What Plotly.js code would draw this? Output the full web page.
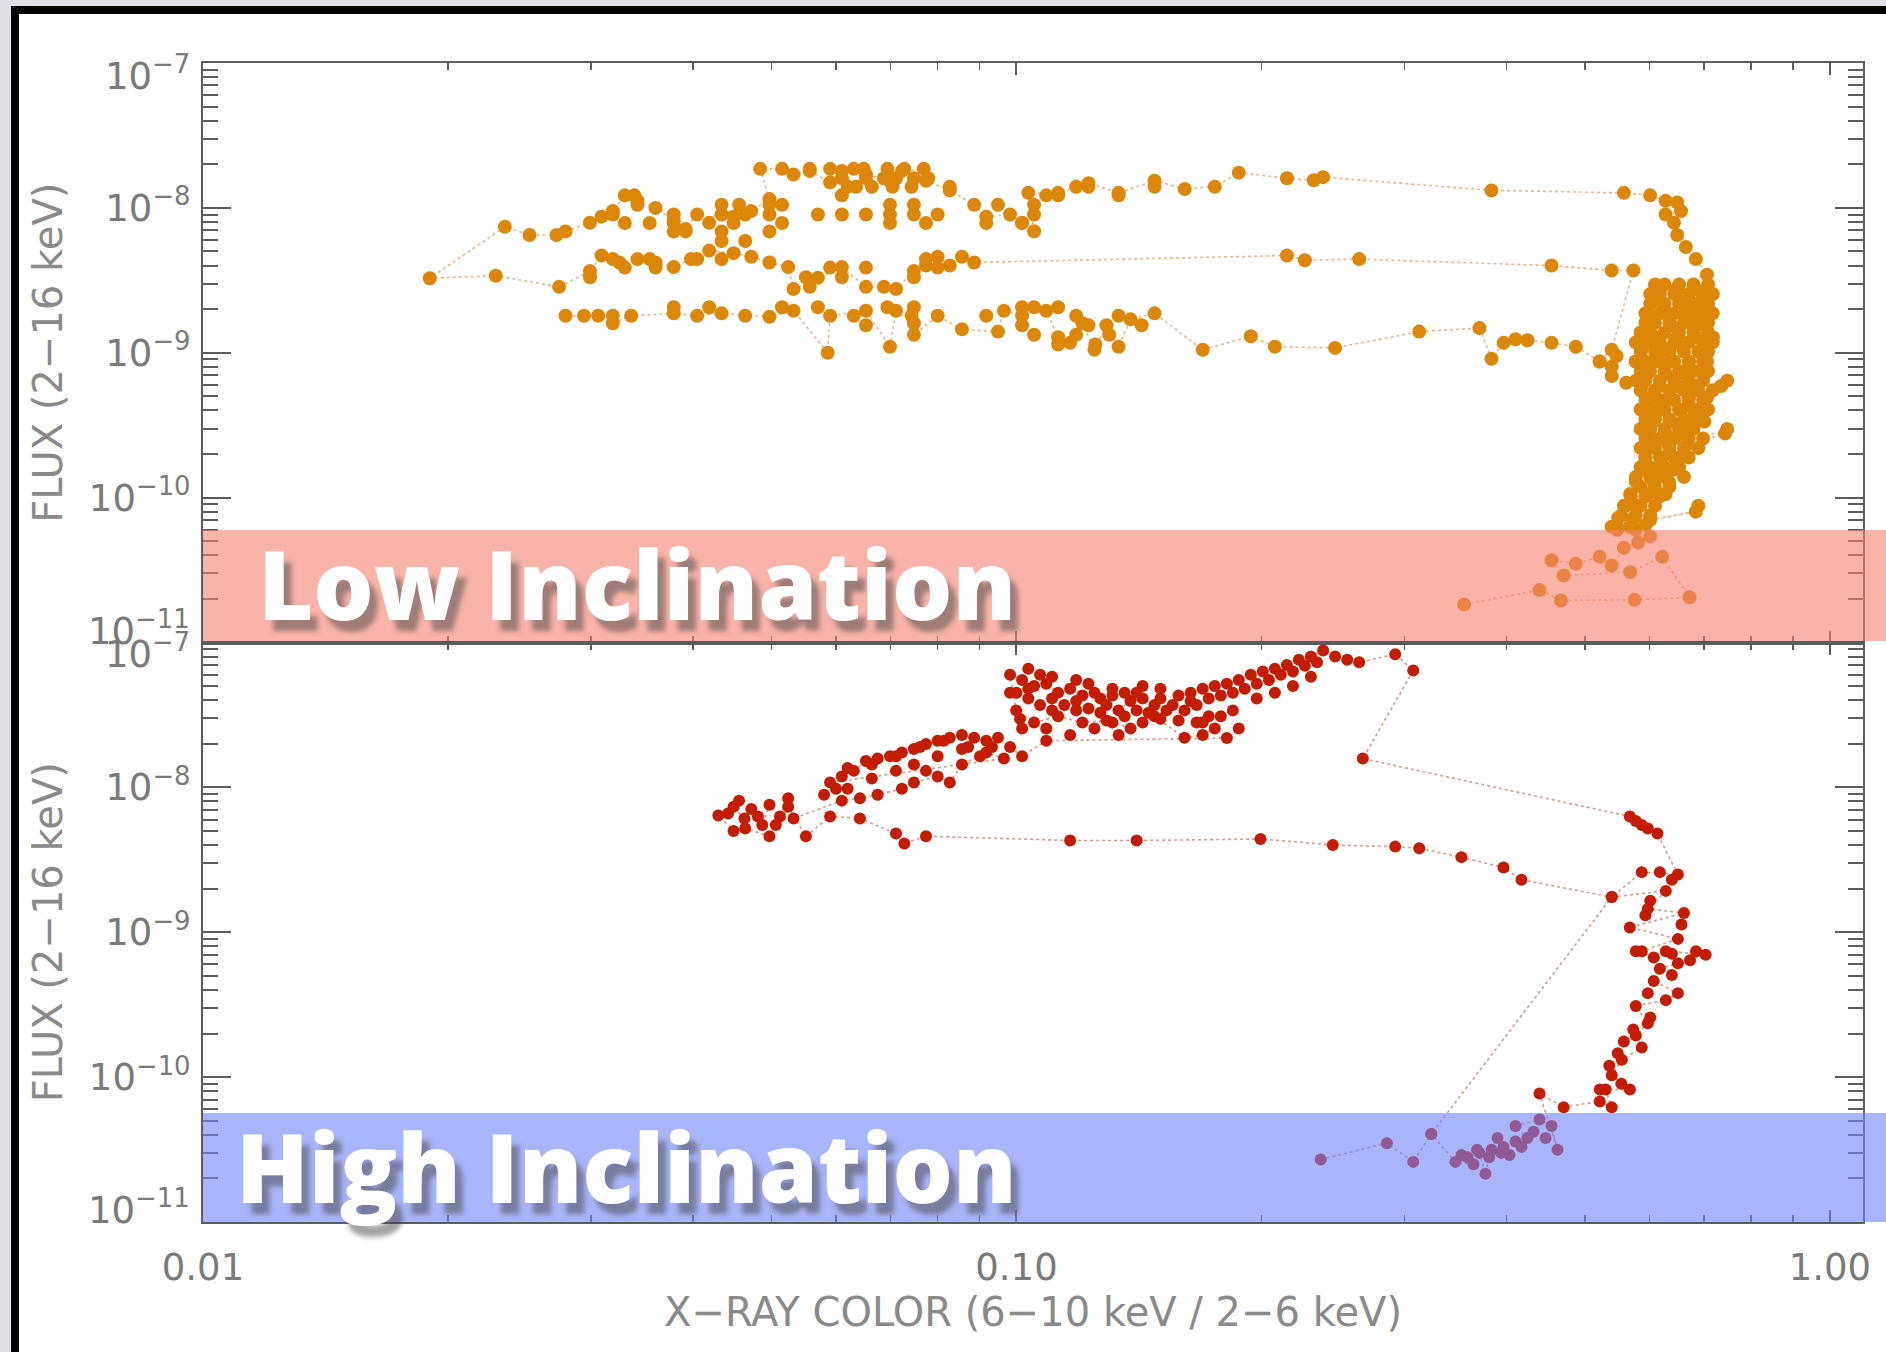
<!DOCTYPE html>
<html>
<head>
<meta charset="utf-8">
<script src="https://cdn.plot.ly/plotly-3.0.1.min.js"></script>
<style>html,body{margin:0;padding:0;background:#fff;}#chart{width:1886px;height:1352px;}</style>
</head>
<body>
<div id="chart"></div>
<script>
// ---------------- DATA ----------------
// Low inclination source (top panel): X-ray colour vs 2-16 keV flux, in time order
const xLow = [
 0.355,0.4395,0.467,0.575,0.672,0.622,0.568,0.4706,0.4547,0.487,0.521,0.539,0.558,0.581,0.601,0.548,0.577,0.601,0.684,
 0.539,0.568,0.549,0.574,0.601,0.581,0.558,0.568,0.597,0.628,0.634,0.607,0.577,0.587,0.613,0.643,0.651,0.621,0.593,
 0.601,0.634,0.665,0.743,0.660,0.628,0.597,0.607,0.638,0.671,0.701,0.687,0.656,0.621,0.593,0.601,0.634,0.671,0.706,
 0.735,0.683,0.649,0.617,0.587,0.597,0.628,0.660,0.701,0.706,0.671,0.638,0.607,0.577,0.587,0.628,0.660,0.694,0.718,
 0.683,0.649,0.617,0.593,0.601,0.638,0.678,0.701,0.706,0.671,0.628,0.597,0.607,0.660,0.694,0.683,0.649,0.617,
 0.706,0.684,0.665,0.649,0.643,0.628,0.656,0.649,0.628,0.601,0.558,
 0.3836,0.2382,0.232,0.215,0.1876,0.1753,0.161,0.1478,0.1335,0.1226,0.1184,0.1125,0.1034,0.1051,0.1016,0.0982,0.0918,
 0.0887,0.0828,0.0774,0.0769,0.0723,0.0699,0.0653,0.0635,0.061,0.059,0.0557,0.0532,0.0515,0.0484,0.0497,0.0472,0.0449,
 0.0434,0.0419,0.0405,0.0392,0.0379,0.036,0.0342,0.033,0.0319,0.0309,0.0299,0.0272,0.0252,0.0235,
 0.019,0.0229,0.0274,0.0299,0.0309,0.0325,0.0342,0.036,0.0379,0.0398,0.0419,0.0449,0.0472,0.0497,0.0524,0.0532,0.057,
 0.061,0.0653,0.0711,0.0748,0.0774,0.080,0.0828,0.0857,0.0887,0.215,0.2262,0.2638,0.4547,0.539,0.5733,
 0.539,0.521,0.487,0.4547,0.4248,0.4106,0.397,0.3836,0.3708,0.3127,0.2464,0.2078,0.1941,0.1694,0.1478,0.1381,0.1335,
 0.129,0.1247,0.1205,0.1164,0.1125,0.1088,0.1016,0.0965,0.0949,0.0857,0.080,0.0748,0.0748,0.0711,0.0699,0.0653,0.059,
 0.0586,0.0532,0.0497,0.0434,0.0405,0.0379,0.0336,0.0319,0.0306,0.0294,0.0279
];
const yLow = [
 1.83e-11,2.3e-11,1.95e-11,1.97e-11,2.05e-11,3.9e-11,3.06e-11,2.9e-11,3.7e-11,3.5e-11,3.9e-11,3.4e-11,4.5e-11,4.9e-11,5.4e-11,6.0e-11,6.0e-11,7.0e-11,8.0e-11,
 6.3e-11,6.3e-11,7.25e-11,7.25e-11,7.25e-11,8.8e-11,8.8e-11,1.06e-10,1.06e-10,1.06e-10,1.29e-10,1.29e-10,1.29e-10,1.56e-10,1.56e-10,1.56e-10,1.89e-10,1.89e-10,1.89e-10,
 2.29e-10,2.29e-10,2.29e-10,2.77e-10,2.77e-10,2.77e-10,2.77e-10,3.35e-10,3.35e-10,3.35e-10,3.35e-10,4.06e-10,4.06e-10,4.06e-10,4.06e-10,4.9e-10,4.9e-10,4.9e-10,4.9e-10,
 5.9e-10,5.9e-10,5.9e-10,5.9e-10,5.9e-10,7.2e-10,7.2e-10,7.2e-10,7.2e-10,8.7e-10,8.7e-10,8.7e-10,8.7e-10,8.7e-10,1.05e-9,1.05e-9,1.05e-9,1.05e-9,1.28e-9,
 1.28e-9,1.28e-9,1.28e-9,1.28e-9,1.55e-9,1.55e-9,1.55e-9,1.55e-9,1.87e-9,1.87e-9,1.87e-9,1.87e-9,2.27e-9,2.27e-9,2.27e-9,2.75e-9,2.75e-9,2.75e-9,
 3.46e-9,4.43e-9,5.37e-9,6.5e-9,7.9e-9,9.0e-9,9.5e-9,1.09e-8,1.12e-8,1.22e-8,1.27e-8,
 1.32e-8,1.63e-8,1.55e-8,1.6e-8,1.75e-8,1.4e-8,1.35e-8,1.54e-8,1.27e-8,1.48e-8,1.4e-8,1.27e-8,1.27e-8,6.9e-9,7.9e-9,9.0e-9,8.7e-9,
 1.05e-8,1.32e-8,1.54e-8,1.86e-8,1.8e-8,1.54e-8,1.7e-8,1.4e-8,1.8e-8,1.5e-8,1.8e-8,1.7e-8,1.86e-8,1.86e-8,1.15e-8,9.5e-9,8.7e-9,
 1.05e-8,7.9e-9,9.0e-9,7.15e-9,8.2e-9,1.0e-8,1.12e-8,1.22e-8,9.5e-9,8.7e-9,7.9e-9,6.5e-9,6.5e-9,7.4e-9,
 3.27e-9,3.4e-9,2.85e-9,3.66e-9,4.69e-9,4.2e-9,4.43e-9,4.2e-9,3.9e-9,4.43e-9,5.07e-9,4.87e-9,4.6e-9,4.2e-9,3.9e-9,2.75e-9,3.3e-9,
 3.9e-9,2.85e-9,2.75e-9,3.66e-9,4.0e-9,4.6e-9,4.0e-9,4.6e-9,4.2e-9,4.69e-9,4.35e-9,4.43e-9,4.0e-9,3.7e-9,3.7e-9,
 1.05e-9,8.7e-10,1.1e-9,1.17e-9,1.22e-9,1.24e-9,1.17e-9,9.1e-10,1.48e-9,1.4e-9,1.08e-9,1.1e-9,1.3e-9,1.05e-9,1.87e-9,1.7e-9,1.1e-9,
 1.55e-9,1.05e-9,1.6e-9,1.17e-9,1.28e-9,1.95e-9,1.8e-9,1.95e-9,1.4e-9,1.45e-9,1.8e-9,1.33e-9,1.6e-9,1.95e-9,1.1e-9,1.95e-9,1.8e-9,
 1.0e-9,1.95e-9,1.77e-9,1.87e-9,1.8e-9,1.87e-9,1.8e-9,1.6e-9,1.8e-9,1.8e-9,1.8e-9
];
// further low-inclination observations inside the crowded soft-state clump and hard-state column
const xLowDense = [
 0.0557,0.0590,0.0631,0.0649,0.0694,0.0728,0.0610,0.0653,0.0687,0.0711,0.0748,0.0779,0.0620,0.0664,0.0704,0.0743,0.0828,0.1226,0.1478,
 0.0339,0.0610,0.1088,0.1125,0.1335,0.0342,0.0456,0.0497,0.0515,0.0699,0.0748,0.0949,0.1051,
 0.0319,0.0379,0.0434,0.0464,0.0497,0.0570,0.0610,0.0653,0.0699,0.0748,0.0800,0.1051,
 0.0330,0.0354,0.0379,0.0449,0.0515,0.0699,0.0774,0.0918,0.1016,0.0279,0.0379,0.0392,0.0434,0.0497,0.0434,0.0464,
 0.0319,0.0354,0.0405,0.0434,0.0774,0.0330,0.0360,0.0590,0.0653,0.0800,0.0299,0.0551,0.0610,0.0748,0.0557,0.0687,
 0.0379,0.0419,0.0515,0.0570,0.0694,0.0748,0.1016,0.1051,0.1125,0.0319,0.0464,0.0631,0.0743,0.0918,0.1184,0.1335,
 0.0653,0.1016,0.1226,0.1425,0.1051,0.1184,0.1300,0.1125,0.1250,
 0.6094,0.6262,0.6523,0.6796,0.7081,0.6012,0.6178,0.6435,0.6704,0.6983,0.7177,0.6012,0.6262,0.6523,0.6796,0.7081,
 0.5931,0.6178,0.6435,0.6615,0.6889,0.7177,0.5931,0.6094,0.6348,0.6615,0.6889,0.7081,0.5851,0.6012,0.6262,0.6523,0.6796,0.7081,
 0.5772,0.6012,0.6178,0.6435,0.6704,0.6983,0.7177,0.5851,0.6094,0.6348,0.6615,0.6889,0.7081,0.5772,0.5931,0.6178,0.6435,0.6704,0.6983,
 0.5851,0.6012,0.6262,0.6523,0.6796,0.7081,0.5772,0.5931,0.6178,0.6435,0.6704,0.6983,0.7476,0.5851,0.6094,0.6348,0.6615,0.6889,0.7177,
 0.5931,0.6178,0.6435,0.6704,0.6983,0.5851,0.6012,0.6262,0.6523,0.6796,0.7081,0.5931,0.6094,0.6348,0.6615,0.6889,
 0.5851,0.6012,0.6262,0.6523,0.6796,0.7476,0.5931,0.6178,0.6435,0.6704,0.6983,0.5851,0.6094,0.6348,0.6615,0.6889,
 0.5931,0.6178,0.6435,0.6704,0.5851,0.6012,0.6262,0.6523,0.5772,0.6012,0.6262,0.6615,0.5851,0.6094,0.6348,
 0.5693,0.5931,0.6178,0.5616,0.5851,0.6094,0.6889,0.5540,0.5772,0.6012,0.5466,0.5693,0.5931,
 0.5212,0.5392,0.5466,0.5392,0.5616
];
const yLowDense = [
 1.86e-8,1.86e-8,1.86e-8,1.86e-8,1.86e-8,1.86e-8,1.6e-8,1.6e-8,1.6e-8,1.6e-8,1.6e-8,1.6e-8,1.4e-8,1.4e-8,1.4e-8,1.4e-8,1.4e-8,1.4e-8,1.4e-8,
 1.22e-8,1.22e-8,1.22e-8,1.22e-8,1.22e-8,1.05e-8,1.05e-8,1.05e-8,1.05e-8,1.05e-8,1.05e-8,1.05e-8,1.05e-8,
 9.0e-9,9.0e-9,9.0e-9,9.0e-9,9.0e-9,9.0e-9,9.0e-9,9.0e-9,9.0e-9,9.0e-9,9.0e-9,9.0e-9,
 7.86e-9,7.86e-9,7.86e-9,7.86e-9,7.86e-9,7.86e-9,7.86e-9,7.86e-9,7.86e-9,6.88e-9,6.88e-9,6.88e-9,6.88e-9,6.88e-9,5.9e-9,5.9e-9,
 4.43e-9,4.43e-9,4.43e-9,4.43e-9,4.43e-9,3.87e-9,3.87e-9,3.87e-9,3.87e-9,3.87e-9,3.32e-9,3.32e-9,3.32e-9,3.32e-9,2.85e-9,2.85e-9,
 2.06e-9,2.06e-9,2.06e-9,2.06e-9,2.06e-9,2.06e-9,2.06e-9,2.06e-9,2.06e-9,1.8e-9,1.8e-9,1.8e-9,1.8e-9,1.8e-9,1.8e-9,1.8e-9,
 1.55e-9,1.55e-9,1.55e-9,1.55e-9,1.33e-9,1.33e-9,1.33e-9,1.14e-9,1.14e-9,
 2.96e-9,2.96e-9,2.96e-9,2.96e-9,2.96e-9,2.54e-9,2.54e-9,2.54e-9,2.54e-9,2.54e-9,2.54e-9,2.18e-9,2.18e-9,2.18e-9,2.18e-9,2.18e-9,
 1.87e-9,1.87e-9,1.87e-9,1.87e-9,1.87e-9,1.87e-9,1.61e-9,1.61e-9,1.61e-9,1.61e-9,1.61e-9,1.61e-9,1.38e-9,1.38e-9,1.38e-9,1.38e-9,1.38e-9,1.38e-9,
 1.18e-9,1.18e-9,1.18e-9,1.18e-9,1.18e-9,1.18e-9,1.18e-9,1.015e-9,1.015e-9,1.015e-9,1.015e-9,1.015e-9,1.015e-9,8.7e-10,8.7e-10,8.7e-10,8.7e-10,8.7e-10,8.7e-10,
 7.48e-10,7.48e-10,7.48e-10,7.48e-10,7.48e-10,7.48e-10,6.42e-10,6.42e-10,6.42e-10,6.42e-10,6.42e-10,6.42e-10,6.42e-10,5.5e-10,5.5e-10,5.5e-10,5.5e-10,5.5e-10,5.5e-10,
 4.72e-10,4.72e-10,4.72e-10,4.72e-10,4.72e-10,4.06e-10,4.06e-10,4.06e-10,4.06e-10,4.06e-10,4.06e-10,3.48e-10,3.48e-10,3.48e-10,3.48e-10,3.48e-10,
 2.98e-10,2.98e-10,2.98e-10,2.98e-10,2.98e-10,2.98e-10,2.56e-10,2.56e-10,2.56e-10,2.56e-10,2.56e-10,2.2e-10,2.2e-10,2.2e-10,2.2e-10,2.2e-10,
 1.89e-10,1.89e-10,1.89e-10,1.89e-10,1.62e-10,1.62e-10,1.62e-10,1.62e-10,1.39e-10,1.39e-10,1.39e-10,1.39e-10,1.19e-10,1.19e-10,1.19e-10,
 1.02e-10,1.02e-10,1.02e-10,8.8e-11,8.8e-11,8.8e-11,8.8e-11,7.52e-11,7.52e-11,7.52e-11,6.46e-11,6.46e-11,6.46e-11,
 8.7e-10,8.0e-10,9.5e-10,6.9e-10,6.2e-10
];

// High inclination source (bottom panel), in time order
const xHigh = [
 0.2366,0.2853,0.3074,0.3235,0.3464,0.3646,0.3584,0.3708,0.3771,0.3836,0.3902,0.3969,0.4037,0.4106,0.4248,0.4106,0.4395,0.4547,0.4625,
 0.4395,0.4706,0.5212,0.5392,0.530,0.5675,0.5392,0.5548,0.5870,0.5772,0.5971,0.5772,0.6284,0.6502,0.6073,0.6178,0.6502,0.6729,0.7033,
 0.6284,0.6073,0.5870,0.6502,0.5675,0.6615,0.5971,0.6284,0.5392,0.5870,0.6502,0.6136,0.5870,0.5675,
 0.2665,0.3074,0.2921,0.2638,0.2382,0.2301,0.2224,0.215,0.2078,0.2008,0.1941,0.1876,0.1814,0.1753,0.1694,0.1637,0.1582,0.1529,
 0.1478,0.1429,0.1381,0.1335,0.129,0.1247,0.1205,0.1164,0.1125,0.1088,0.1051,0.1016,0.0982,0.0999,0.1051,0.1125,0.1205,0.129,
 0.1381,0.1478,0.1609,0.1694,0.1753,0.1814,0.1088,0.1016,0.0982,
 0.0949,0.0918,0.0887,0.0857,0.0828,0.080,0.0774,0.0748,0.0723,0.0699,0.0675,0.0653,0.0631,0.061,0.059,
 0.0965,0.0918,0.0857,0.0828,0.080,0.0748,0.0723,0.0675,0.0642,0.061,
 0.0532,0.0524,0.0512,0.0497,0.0487,0.0472,0.0463,0.0449,0.0430,0.0449,0.0464,0.0497,0.0524,0.0551,
 0.059,0.0642,0.0711,0.0728,0.0774,0.1164,0.1405,0.1995,0.2448,0.2921,0.3127,0.3523,0.3969,0.4176,0.5392,0.3235
];
const yHigh = [
 2.7e-11,3.5e-11,2.6e-11,4.05e-11,2.6e-11,2.5e-11,2.8e-11,3.0e-11,2.15e-11,3.15e-11,3.8e-11,3.3e-11,2.9e-11,3.6e-11,3.8e-11,4.6e-11,5.1e-11,4.6e-11,3.15e-11,
 7.7e-11,6.2e-11,6.8e-11,6.2e-11,8.2e-11,8.2e-11,1.03e-10,1.32e-10,1.6e-10,1.94e-10,2.35e-10,3.1e-10,3.4e-10,3.8e-10,4.6e-10,5.6e-10,6.1e-10,6.4e-10,7.0e-10,
 7.4e-10,6.7e-10,7.4e-10,9.0e-10,1.08e-9,1.36e-9,1.45e-9,1.93e-9,1.75e-9,2.6e-9,2.5e-9,4.8e-9,5.5e-9,6.3e-9,
 1.58e-8,6.4e-8,8.3e-8,7.3e-8,8.8e-8,8.0e-8,7.6e-8,7.0e-8,6.6e-8,6.3e-8,6.0e-8,5.5e-8,5.2e-8,5.0e-8,4.8e-8,4.5e-8,4.3e-8,3.4e-8,
 3.7e-8,4.1e-8,3.95e-8,3.4e-8,3.7e-8,4.5e-8,4.3e-8,4.8e-8,4.5e-8,5.2e-8,5.0e-8,5.5e-8,6.0e-8,3.4e-8,2.8e-8,3.1e-8,2.8e-8,2.9e-8,
 2.55e-8,3.1e-8,2.2e-8,2.3e-8,2.55e-8,2.19e-8,2.1e-8,1.64e-8,1.9e-8,
 2.2e-8,2.1e-8,2.2e-8,2.3e-8,2.2e-8,2.1e-8,1.99e-8,1.84e-8,1.74e-8,1.64e-8,1.58e-8,1.52e-8,1.3e-8,1.19e-8,1.08e-8,
 1.58e-8,1.74e-8,1.44e-8,1.08e-8,1.19e-8,1.08e-8,9.8e-9,8.9e-9,8.4e-9,8.1e-9,
 6.1e-9,8.4e-9,6.3e-9,7.6e-9,5.5e-9,7.1e-9,6.1e-9,7.35e-9,6.4e-9,5.0e-9,5.2e-9,4.6e-9,7.35e-9,4.6e-9,
 6.3e-9,6.1e-9,4.8e-9,4.1e-9,4.6e-9,4.3e-9,4.3e-9,4.4e-9,4.0e-9,3.9e-9,3.8e-9,3.3e-9,2.8e-9,2.3e-9,1.75e-9,4.05e-11
];
// further high-inclination observations in the crowded regions
const xHighDense = [
 0.1000,0.1034,0.1069,0.1106,0.1145,0.1184,0.1226,0.1268,0.1312,0.1358,0.1405,0.1453,0.1503,0.1556,0.1609,0.1665,0.1723,0.1783,
 0.1845,0.1908,0.1974,0.2043,0.2113,0.2187,0.2262,0.2341,0.2464,0.2550,0.1016,0.1088,0.1164,0.1247,0.1335,0.1429,0.1694,0.1876,
 0.1034,0.1069,0.1106,0.1184,0.1226,0.1312,0.1358,0.1429,0.1503,0.0982,0.1010,
 0.1034,0.1106,0.1184,0.1268,0.1312,0.1405,0.1503,0.1637,0.1582,0.1665,0.1783,0.1723,0.1845,0.1974,0.2078,0.2187,0.2301,
 0.0620,0.0664,0.0711,0.0761,0.0814,0.0872,0.0933,0.0600,0.0580,0.0774,
 0.0711,0.0748,0.0800,0.0857,0.0902,0.0664,0.0620,
 0.0442,0.0456,0.0481,0.0506,
 0.5772,0.5971,0.6178,0.6392,0.6012,0.5931,0.6569,0.5772,0.6392,0.6844,0.6392,0.5971,0.6012,0.5730,0.5579,0.5484,0.5355,0.5540,0.5212,
 0.3524,0.3683,0.3942,0.4176,0.4321,0.4471,0.3811
];
const yHighDense = [
 4.5e-8,4.1e-8,3.7e-8,3.4e-8,3.7e-8,3.4e-8,3.5e-8,3.27e-8,2.8e-8,3.1e-8,3.4e-8,3.27e-8,2.97e-8,3.7e-8,3.4e-8,3.7e-8,4.1e-8,4.3e-8,
 4.5e-8,4.8e-8,5.2e-8,5.5e-8,6.0e-8,6.3e-8,6.9e-8,7.3e-8,8.0e-8,7.6e-8,2.55e-8,2.55e-8,2.3e-8,2.55e-8,2.3e-8,2.8e-8,2.8e-8,2.55e-8,
 6.6e-8,6.0e-8,5.8e-8,5.5e-8,5.2e-8,4.8e-8,4.5e-8,5.0e-8,4.8e-8,4.5e-8,2.97e-8,
 4.8e-8,4.1e-8,3.95e-8,4.1e-8,4.3e-8,4.5e-8,4.1e-8,3.95e-8,2.9e-8,2.8e-8,3.1e-8,3.1e-8,3.4e-8,4.1e-8,4.5e-8,5.0e-8,5.8e-8,
 1.36e-8,1.44e-8,1.64e-8,1.9e-8,2.1e-8,1.9e-8,1.9e-8,9.8e-9,8.9e-9,1.3e-8,
 1.3e-8,1.44e-8,1.64e-8,1.84e-8,1.64e-8,1.15e-8,9.8e-9,
 6.6e-9,8.1e-9,6.3e-9,5.5e-9,
 5.85e-9,5.2e-9,2.6e-9,2.3e-9,1.65e-9,1.31e-9,1.13e-9,7.4e-10,7.1e-10,7.4e-10,5.06e-10,3.8e-10,2.58e-10,2.13e-10,1.76e-10,1.46e-10,1.2e-10,9.0e-11,8.2e-11,
 2.9e-11,3.15e-11,3.0e-11,3.3e-11,4.2e-11,3.8e-11,2.8e-11
];

// Axis ticks and labels
const xTickVals = [0.01, 0.1, 1];
const xTickText = ['0.01', '0.10', '1.00'];
const yTickVals = [1e-11, 1e-10, 1e-9, 1e-8, 1e-7];
const yTickText = ['10<sup>−11</sup>', '10<sup>−10</sup>', '10<sup>−9</sup>', '10<sup>−8</sup>', '10<sup>−7</sup>'];
const xTitle = 'X−RAY COLOR (6−10 keV / 2−6 keV)';
const yTitle = 'FLUX (2−16 keV)';
const labels = ['Low Inclination', 'High Inclination'];

// ---------------- LAYOUT ----------------
const W = 1886, H = 1352;
const M = {l: 203, r: 23, t: 63, b: 130};
const PW = W - M.l - M.r, PH = H - M.t - M.b;
const px = v => (v - M.l) / PW;          // pixel -> paper x
const py = v => 1 - (v - M.t) / PH;      // pixel -> paper y

function minorVals(lo, hi) {
  const out = [];
  for (let e = lo; e < hi; e++) for (let d = 2; d <= 9; d++) out.push(d * Math.pow(10, e));
  return out;
}

const axisCol = '#5c5c5c';
const tickFont = {family: 'DejaVu Sans', size: 37, color: '#7a7a7a'};
const titleFont = {family: 'DejaVu Sans', size: 40, color: '#8a8a8a'};

// end-of-axis labels are drawn nudged inwards (as in the original figure), the rest by the axis itself
const last = yTickText.length - 1;
const yAxisText = yTickText.map((t, i) => (i === 0 || i === last) ? '' : t);

const xCommon = {
  type: 'log', range: [-2, Math.log10(1.098)],
  showline: true, linecolor: axisCol, linewidth: 2, mirror: 'allticks',
  ticks: 'inside', ticklen: 12, tickwidth: 2, tickcolor: axisCol,
  tickmode: 'array', tickvals: xTickVals, ticktext: xTickText,
  minor: {ticks: 'inside', ticklen: 7, tickwidth: 1.5, tickcolor: axisCol, tickmode: 'array', tickvals: minorVals(-2, 1)},
  showgrid: false, zeroline: false, tickfont: tickFont
};
const yCommon = {
  type: 'log', range: [-11, -7],
  showline: true, linecolor: axisCol, linewidth: 2, mirror: 'allticks',
  ticks: 'inside', ticklen: 28, tickwidth: 2, tickcolor: axisCol,
  tickmode: 'array', tickvals: yTickVals, ticktext: yAxisText,
  minor: {ticks: 'inside', ticklen: 15, tickwidth: 2, tickcolor: axisCol, tickmode: 'array', tickvals: minorVals(-11, -7)},
  showgrid: false, zeroline: false, tickfont: tickFont, ticklabelstandoff: 3,
  title: {text: yTitle, font: titleFont, standoff: 14}
};

const lowMarker = {color: '#dc870a', size: 14, line: {width: 0}};
const highMarker = {color: '#c41c00', size: 12, line: {width: 0}};
const traces = [
  {x: xLow, y: yLow, xaxis: 'x2', yaxis: 'y', type: 'scatter', mode: 'lines+markers',
   line: {color: 'rgba(226,160,95,0.75)', width: 1.6, dash: 'dot'}, marker: lowMarker, hoverinfo: 'skip'},
  {x: xLowDense, y: yLowDense, xaxis: 'x2', yaxis: 'y', type: 'scatter', mode: 'markers', marker: lowMarker, hoverinfo: 'skip'},
  {x: xHigh, y: yHigh, xaxis: 'x', yaxis: 'y2', type: 'scatter', mode: 'lines+markers',
   line: {color: 'rgba(205,110,90,0.7)', width: 1.6, dash: 'dot'}, marker: highMarker, hoverinfo: 'skip'},
  {x: xHighDense, y: yHighDense, xaxis: 'x', yaxis: 'y2', type: 'scatter', mode: 'markers', marker: highMarker, hoverinfo: 'skip'}
];

const shapes = [
  // slide frame
  {type: 'rect', xref: 'paper', yref: 'paper', x0: px(0), x1: px(11), y0: py(H), y1: py(0), fillcolor: '#dde1e6', line: {width: 0}, layer: 'below'},
  {type: 'rect', xref: 'paper', yref: 'paper', x0: px(0), x1: px(W), y0: py(6), y1: py(0), fillcolor: '#dde1e6', line: {width: 0}, layer: 'below'},
  {type: 'rect', xref: 'paper', yref: 'paper', x0: px(11), x1: px(19), y0: py(H), y1: py(6), fillcolor: '#000', line: {width: 0}, layer: 'below'},
  {type: 'rect', xref: 'paper', yref: 'paper', x0: px(11), x1: px(W), y0: py(14), y1: py(6), fillcolor: '#000', line: {width: 0}, layer: 'below'},
  // highlight bands
  {type: 'rect', xref: 'paper', yref: 'paper', x0: 0, x1: px(W), y0: py(641), y1: py(530), fillcolor: 'rgba(247,128,110,0.6)', line: {width: 0}, layer: 'above'},
  {type: 'rect', xref: 'paper', yref: 'paper', x0: 0, x1: px(W), y0: py(1222), y1: py(1113), fillcolor: 'rgba(112,132,247,0.6)', line: {width: 0}, layer: 'above'}
];

const bandFont = {family: 'Open Sans', size: 95, color: '#ffffff', weight: 800, shadow: '8px 11px 5px rgba(70,70,70,0.5)'};
const endLabel = (text, yPaper, shift) => ({text: text, xref: 'paper', yref: 'paper', x: px(191), y: yPaper,
  xanchor: 'right', yanchor: 'middle', yshift: shift, showarrow: false, font: tickFont, borderpad: 0});
const annotations = [
  {text: labels[0], xref: 'paper', yref: 'paper', x: px(256), y: py(583), xanchor: 'left', yanchor: 'middle', showarrow: false, font: bandFont},
  {text: labels[1], xref: 'paper', yref: 'paper', x: px(234), y: py(1166), xanchor: 'left', yanchor: 'middle', showarrow: false, font: bandFont},
  endLabel(yTickText[last], 1.0, -10),   // top panel 10^-7
  endLabel(yTickText[0], 0.5, 14),       // top panel 10^-11
  endLabel(yTickText[last], 0.5, -9),    // bottom panel 10^-7
  endLabel(yTickText[0], 0.0, 15)        // bottom panel 10^-11
];

const layout = {
  width: W, height: H, margin: M,
  paper_bgcolor: '#ffffff', plot_bgcolor: '#ffffff', showlegend: false,
  xaxis: Object.assign({}, xCommon, {anchor: 'y2', domain: [0, 1], ticklabelstandoff: 12,
    title: {text: xTitle, font: titleFont, standoff: 10}}),
  xaxis2: Object.assign({}, xCommon, {anchor: 'y', matches: 'x', showticklabels: false}),
  yaxis: Object.assign({}, yCommon, {domain: [0.5, 1], anchor: 'x2'}),
  yaxis2: Object.assign({}, yCommon, {domain: [0, 0.5], anchor: 'x'}),
  shapes: shapes, annotations: annotations
};

Plotly.newPlot('chart', traces, layout, {displayModeBar: false, staticPlot: true});
</script>
</body>
</html>
